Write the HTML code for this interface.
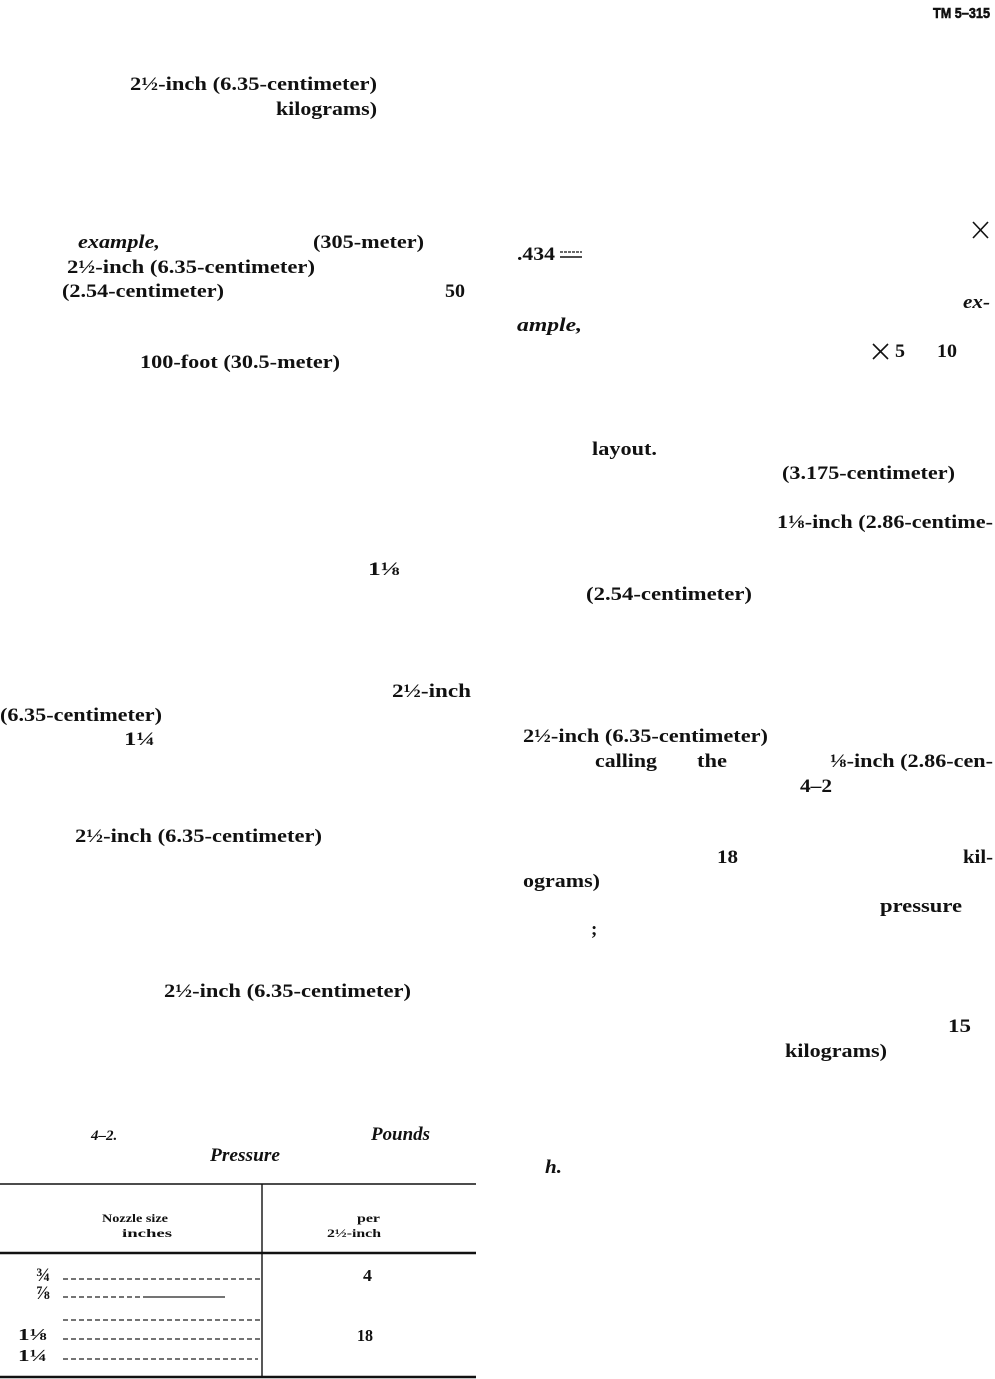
<!DOCTYPE html>
<html>
<head>
<meta charset="utf-8">
<style>
  html,body{margin:0;padding:0;background:#fff;}
  svg{display:block;}
  .t{font-family:"Liberation Serif",serif;font-size:19px;font-weight:bold;fill:#111;}
  .i{font-family:"Liberation Serif",serif;font-size:19px;font-weight:bold;font-style:italic;fill:#111;}
  .s{font-family:"Liberation Serif",serif;font-size:12px;font-weight:bold;fill:#111;}
  .r{font-family:"Liberation Serif",serif;font-size:17px;font-weight:bold;fill:#111;}
  .h{font-family:"Liberation Sans",sans-serif;font-size:15px;font-weight:bold;fill:#111;stroke:#111;stroke-width:0.6;}
</style>
</head>
<body>
<svg width="995" height="1379" viewBox="0 0 995 1379" xmlns="http://www.w3.org/2000/svg">
  <!-- Header -->
  <text class="h" x="933" y="18" textLength="57" lengthAdjust="spacingAndGlyphs">TM 5–315</text>

  <!-- Left column -->
  <text class="t" x="130" y="90" textLength="247" lengthAdjust="spacingAndGlyphs">2½-inch (6.35-centimeter)</text>
  <text class="t" x="276" y="115" textLength="101" lengthAdjust="spacingAndGlyphs">kilograms)</text>
  <text class="i" x="78" y="248" textLength="82" lengthAdjust="spacingAndGlyphs">example,</text>
  <text class="t" x="313" y="248" textLength="111" lengthAdjust="spacingAndGlyphs">(305-meter)</text>
  <text class="t" x="67" y="273" textLength="248" lengthAdjust="spacingAndGlyphs">2½-inch (6.35-centimeter)</text>
  <text class="t" x="62" y="297" textLength="162" lengthAdjust="spacingAndGlyphs">(2.54-centimeter)</text>
  <text class="t" x="445" y="297" textLength="20" lengthAdjust="spacingAndGlyphs">50</text>
  <text class="t" x="140" y="368" textLength="200" lengthAdjust="spacingAndGlyphs">100-foot (30.5-meter)</text>
  <text class="t" x="368" y="575" textLength="32" lengthAdjust="spacingAndGlyphs">1⅛</text>
  <text class="t" x="392" y="697" textLength="79" lengthAdjust="spacingAndGlyphs">2½-inch</text>
  <text class="t" x="0" y="721" textLength="162" lengthAdjust="spacingAndGlyphs">(6.35-centimeter)</text>
  <text class="t" x="124" y="745" textLength="31" lengthAdjust="spacingAndGlyphs">1¼</text>
  <text class="t" x="75" y="842" textLength="247" lengthAdjust="spacingAndGlyphs">2½-inch (6.35-centimeter)</text>
  <text class="t" x="164" y="997" textLength="247" lengthAdjust="spacingAndGlyphs">2½-inch (6.35-centimeter)</text>

  <!-- Table caption -->
  <text class="i" x="91" y="1140" style="font-size:15px">4–2.</text>
  <text class="i" x="371" y="1140" textLength="59" lengthAdjust="spacingAndGlyphs">Pounds</text>
  <text class="i" x="210" y="1161" textLength="70" lengthAdjust="spacingAndGlyphs">Pressure</text>

  <!-- Table rules -->
  <line x1="0" y1="1184" x2="476" y2="1184" stroke="#111" stroke-width="1.6"/>
  <line x1="262" y1="1184" x2="262" y2="1377" stroke="#111" stroke-width="1.4"/>
  <line x1="0" y1="1253" x2="476" y2="1253" stroke="#111" stroke-width="2.6"/>
  <line x1="0" y1="1377" x2="476" y2="1377" stroke="#111" stroke-width="2.6"/>

  <!-- Table header -->
  <text class="s" x="102" y="1222" textLength="66" lengthAdjust="spacingAndGlyphs">Nozzle size</text>
  <text class="s" x="122" y="1237" textLength="50" lengthAdjust="spacingAndGlyphs">inches</text>
  <text class="s" x="357" y="1222" textLength="23" lengthAdjust="spacingAndGlyphs">per</text>
  <text class="s" x="327" y="1237" textLength="54" lengthAdjust="spacingAndGlyphs">2½-inch</text>

  <!-- Table rows -->
  <text class="r" x="36" y="1281" style="font-size:19px">¾</text>
  <text class="r" x="36" y="1299" style="font-size:19px">⅞</text>
  <text class="r" x="18" y="1340" textLength="29" lengthAdjust="spacingAndGlyphs">1⅛</text>
  <text class="r" x="18" y="1361" textLength="29" lengthAdjust="spacingAndGlyphs">1¼</text>
  <text class="r" x="363" y="1281" textLength="9" lengthAdjust="spacingAndGlyphs">4</text>
  <text class="r" x="357" y="1341" textLength="16" lengthAdjust="spacingAndGlyphs">18</text>

  <g stroke="#222" stroke-width="1.3" stroke-dasharray="5,3">
    <line x1="63" y1="1279" x2="261" y2="1279"/>
    <line x1="63" y1="1297" x2="146" y2="1297"/>
    <line x1="63" y1="1320" x2="261" y2="1320"/>
    <line x1="63" y1="1339" x2="261" y2="1339"/>
    <line x1="63" y1="1359" x2="258" y2="1359"/>
  </g>
  <line x1="146" y1="1297" x2="225" y2="1297" stroke="#222" stroke-width="1.3"/>

  <!-- Right column -->
  <line x1="973" y1="222" x2="988" y2="238" stroke="#111" stroke-width="1.6"/>
  <line x1="988" y1="222" x2="973" y2="238" stroke="#111" stroke-width="1.6"/>
  <text class="t" x="517" y="260" textLength="38" lengthAdjust="spacingAndGlyphs">.434</text>
  <line x1="560" y1="252" x2="582" y2="252" stroke="#111" stroke-width="1.3" stroke-dasharray="3,1"/>
  <line x1="560" y1="257" x2="582" y2="257" stroke="#111" stroke-width="1.6"/>
  <text class="i" x="963" y="308" textLength="27" lengthAdjust="spacingAndGlyphs">ex-</text>
  <text class="i" x="517" y="331" textLength="65" lengthAdjust="spacingAndGlyphs">ample,</text>
  <line x1="873" y1="344" x2="888" y2="359" stroke="#111" stroke-width="1.6"/>
  <line x1="888" y1="344" x2="873" y2="359" stroke="#111" stroke-width="1.6"/>
  <text class="t" x="895" y="357" textLength="10" lengthAdjust="spacingAndGlyphs">5</text>
  <text class="t" x="937" y="357" textLength="20" lengthAdjust="spacingAndGlyphs">10</text>
  <text class="t" x="592" y="455" textLength="65" lengthAdjust="spacingAndGlyphs">layout.</text>
  <text class="t" x="782" y="479" textLength="173" lengthAdjust="spacingAndGlyphs">(3.175-centimeter)</text>
  <text class="t" x="777" y="528" textLength="216" lengthAdjust="spacingAndGlyphs">1⅛-inch (2.86-centime-</text>
  <text class="t" x="586" y="600" textLength="166" lengthAdjust="spacingAndGlyphs">(2.54-centimeter)</text>
  <text class="t" x="523" y="742" textLength="245" lengthAdjust="spacingAndGlyphs">2½-inch (6.35-centimeter)</text>
  <text class="t" x="595" y="767" textLength="62" lengthAdjust="spacingAndGlyphs">calling</text>
  <text class="t" x="697" y="767" textLength="30" lengthAdjust="spacingAndGlyphs">the</text>
  <text class="t" x="830" y="767" textLength="163" lengthAdjust="spacingAndGlyphs">⅛-inch (2.86-cen-</text>
  <text class="t" x="800" y="792" textLength="32" lengthAdjust="spacingAndGlyphs">4–2</text>
  <text class="t" x="717" y="863" textLength="21" lengthAdjust="spacingAndGlyphs">18</text>
  <text class="t" x="963" y="863" textLength="30" lengthAdjust="spacingAndGlyphs">kil-</text>
  <text class="t" x="523" y="887" textLength="77" lengthAdjust="spacingAndGlyphs">ograms)</text>
  <text class="t" x="880" y="912" textLength="82" lengthAdjust="spacingAndGlyphs">pressure</text>
  <text class="t" x="591" y="935">;</text>
  <text class="t" x="948" y="1032" textLength="23" lengthAdjust="spacingAndGlyphs">15</text>
  <text class="t" x="785" y="1057" textLength="102" lengthAdjust="spacingAndGlyphs">kilograms)</text>
  <text class="i" x="545" y="1173" textLength="17" lengthAdjust="spacingAndGlyphs">h.</text>
</svg>
</body>
</html>
